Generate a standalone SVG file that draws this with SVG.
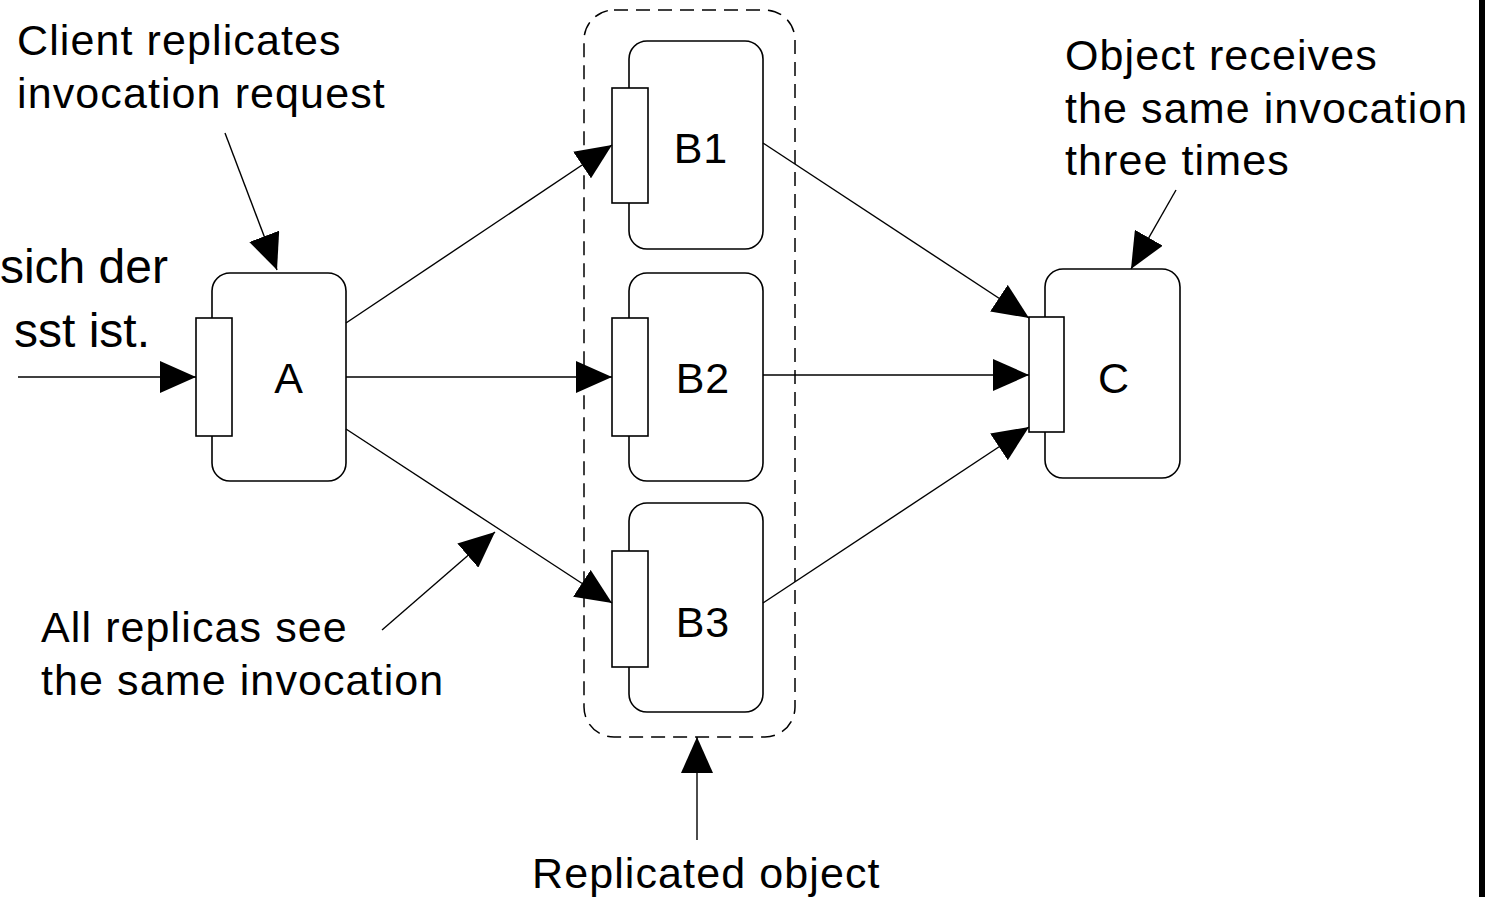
<svg xmlns="http://www.w3.org/2000/svg" width="1485" height="897" viewBox="0 0 1485 897">
<style>
.box{fill:#fff;stroke:#000;stroke-width:1.6}
.port{fill:#fff;stroke:#000;stroke-width:1.6}
.lbl{font-family:"Liberation Sans",Arial,sans-serif;font-size:43px;fill:#000;text-anchor:middle;letter-spacing:1px}
.note{font-family:"Liberation Sans",Arial,sans-serif;font-size:43px;fill:#000;letter-spacing:1.1px}
.big{font-family:"Liberation Sans",Arial,sans-serif;font-size:48px;fill:#000;text-anchor:end}
.edge{fill:none;stroke:#000;stroke-width:1.4;marker-end:url(#ah)}
</style>
<defs>
<marker id="ah" viewBox="0 0 36 32" refX="36" refY="16" markerWidth="36" markerHeight="32" markerUnits="userSpaceOnUse" orient="auto">
<path d="M0,0 L36,16 L0,32 Z" fill="#000"/>
</marker>
</defs>
<rect x="0" y="0" width="1485" height="897" fill="#fff"/>
<rect x="1479" y="0" width="6" height="897" fill="#000"/>

<text class="big" x="168" y="283">sich der</text>
<text class="big" x="150" y="347">sst ist.</text>

<g id="group-replicated">
<rect x="584" y="10" width="211" height="727" rx="30" ry="30" fill="none" stroke="#000" stroke-width="1.5" stroke-dasharray="14 8"/>
</g>

<g id="node-A">
<rect class="box" x="212" y="273" width="134" height="208" rx="18" ry="18"/>
<rect class="port" x="196" y="318" width="36" height="118"/>
<text class="lbl" x="289" y="393">A</text>
</g>
<g id="node-B1">
<rect class="box" x="629" y="41" width="134" height="208" rx="18" ry="18"/>
<rect class="port" x="612" y="88" width="36" height="115"/>
<text class="lbl" x="701" y="163">B1</text>
</g>
<g id="node-B2">
<rect class="box" x="629" y="273" width="134" height="208" rx="18" ry="18"/>
<rect class="port" x="612" y="318" width="36" height="118"/>
<text class="lbl" x="703" y="393">B2</text>
</g>
<g id="node-B3">
<rect class="box" x="629" y="503" width="134" height="209" rx="18" ry="18"/>
<rect class="port" x="612" y="551" width="36" height="116"/>
<text class="lbl" x="703" y="637">B3</text>
</g>
<g id="node-C">
<rect class="box" x="1045" y="269" width="135" height="209" rx="18" ry="18"/>
<rect class="port" x="1029" y="317" width="35" height="115"/>
<text class="lbl" x="1114" y="393">C</text>
</g>

<g id="connectors">
<line class="edge" x1="18" y1="377" x2="196" y2="377"/>
<line class="edge" x1="346" y1="323" x2="612" y2="145"/>
<line class="edge" x1="346" y1="377" x2="612" y2="377"/>
<line class="edge" x1="346" y1="429" x2="612" y2="603"/>
<line class="edge" x1="763" y1="143" x2="1029" y2="318"/>
<line class="edge" x1="763" y1="375" x2="1029" y2="375"/>
<line class="edge" x1="763" y1="603" x2="1029" y2="427"/>
<line class="edge" x1="225" y1="133" x2="277" y2="270"/>
<line class="edge" x1="382" y1="630" x2="495" y2="532"/>
<line class="edge" x1="1176" y1="190" x2="1131" y2="269"/>
<line class="edge" x1="697" y1="840" x2="697" y2="737"/>
</g>

<g id="labels">
<text class="note" x="17" y="55">Client replicates</text>
<text class="note" x="17" y="108">invocation request</text>
<text class="note" x="41" y="642">All replicas see</text>
<text class="note" x="41" y="695">the same invocation</text>
<text class="note" x="1065" y="70">Object receives</text>
<text class="note" x="1065" y="123">the same invocation</text>
<text class="note" x="1065" y="175">three times</text>
<text class="note" x="532" y="888">Replicated object</text>
</g>
</svg>
